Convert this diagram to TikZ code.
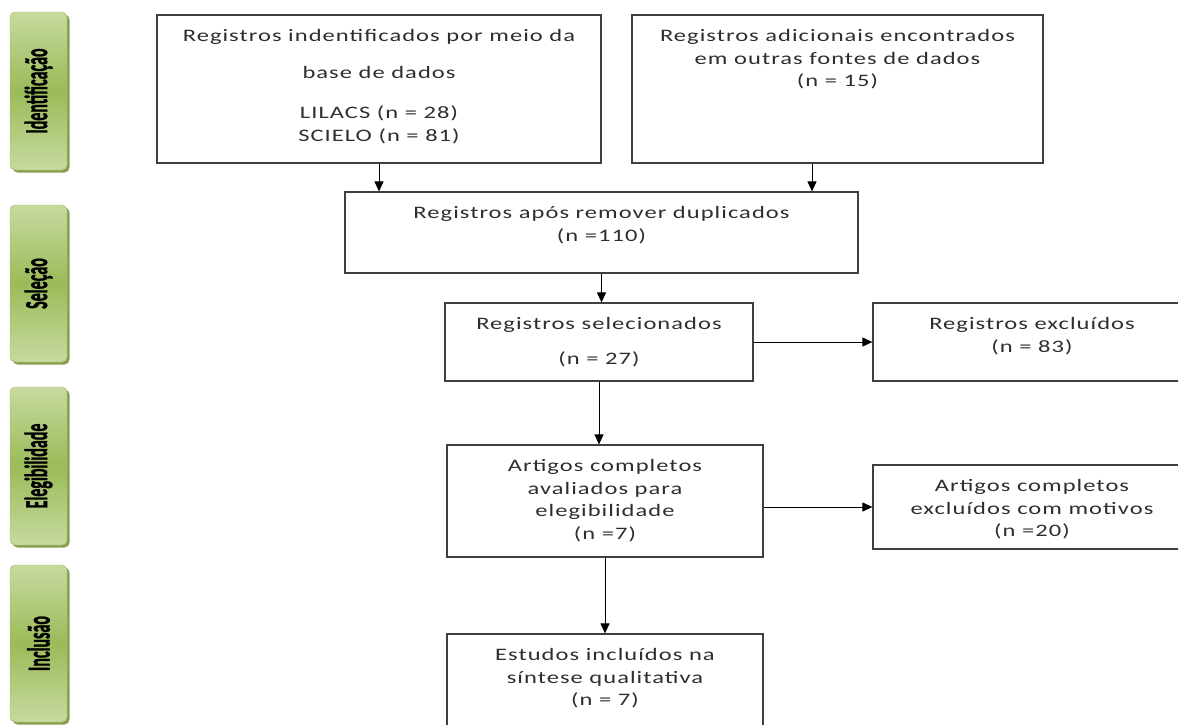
\documentclass[tikz,border=0pt]{standalone}
\usepackage{fontspec}
\setmainfont{Carlito}
\newfontfamily\boxfont[FakeStretch=1.4,LetterSpace=6]{Carlito}
\newfontfamily\phasefont[FakeBold=1.5]{Carlito Bold}
\usetikzlibrary{arrows.meta,positioning,shadows}
\definecolor{barlight}{HTML}{C6DA9E}
\definecolor{barmid}{HTML}{9BBB59}
\definecolor{barline}{HTML}{A3C068}
\definecolor{barshadow}{HTML}{7A9440}
\definecolor{boxline}{HTML}{3F3F3F}
\definecolor{boxtext}{HTML}{2E2E2E}
\tikzset{
  phase/.style={rounded corners=5pt,draw=barline,top color=barlight,bottom color=barlight,middle color=barmid,minimum width=57pt,minimum height=158pt,inner sep=0pt,drop shadow={shadow xshift=2.5pt,shadow yshift=-2.5pt,fill=barshadow,opacity=0.9},text=black,font=\phasefont\fontsize{16}{20}\selectfont},
  rec/.style={draw=boxline,line width=1.2pt,fill=white,inner sep=0pt},
  txt/.style={align=center,inner sep=0pt,text=boxtext,font=\boxfont\fontsize{17.5}{22.5}\selectfont},
  flow/.style={-{Triangle[length=10pt,width=9pt]},line width=1pt,black},
}
\newcommand{\phasetext}[1]{\rotatebox{90}{\scalebox{1}[2]{#1}}}

\begin{document}
\begin{tikzpicture}[x=1pt,y=-1pt]
  \useasboundingbox (0,0) rectangle (1178,724);
  % phases
  \node[phase] (pid) at (38.5,91) {\phasetext{Identificação}};
  \node[phase,minimum height=157pt] (psel) at (38.5,283.5) {\phasetext{Seleção}};
  \node[phase] (pele) at (38.5,466) {\phasetext{Elegibilidade}};
  \node[phase,minimum height=157pt] (pinc) at (38.5,643.5) {\phasetext{Inclusão}};
  % boxes
  \node[rec,minimum width=444pt,minimum height=148pt] (ident) at (379,89) {};
  \node[rec,minimum width=411pt,minimum height=148pt] (extra) at (837.5,89) {};
  \node[rec,minimum width=513pt,minimum height=81pt] (dup) at (601.5,232.5) {};
  \node[rec,minimum width=308pt,minimum height=78pt] (sel) at (599,342) {};
  \node[rec,minimum width=318pt,minimum height=78pt] (excl) at (1032,342) {};
  \node[rec,minimum width=316pt,minimum height=112pt] (full) at (605,501) {};
  \node[rec,minimum width=318pt,minimum height=84pt] (fullexcl) at (1032,507) {};
  \node[rec,minimum width=316pt,minimum height=112pt] (incl) at (605,690) {};
  % texts
  \node[txt,below=15pt of ident.north] (identtxt) {Registros indentificados por meio da\\[14pt]base de dados\\[18pt]LILACS (n = 28)\\SCIELO (n = 81)};
  \node[txt,below=15pt of extra.north] (extratxt) {Registros adicionais encontrados\\em outras fontes de dados\\(n = 15)};
  \node[txt,below=15pt of dup.north] (duptxt) {Registros após remover duplicados\\(n =110)};
  \node[txt,below=15pt of sel.north] (seltxt) {Registros selecionados\\[12pt](n = 27)};
  \node[txt,below=15pt of excl.north] (excltxt) {Registros excluídos\\(n = 83)};
  \node[txt,below=15pt of full.north] (fulltxt) {Artigos completos\\avaliados para\\elegibilidade\\(n =7)};
  \node[txt,below=15pt of fullexcl.north] (fullexcltxt) {Artigos completos\\excluídos com motivos\\(n =20)};
  \node[txt,below=15pt of incl.north] (incltxt) {Estudos incluídos na\\síntese qualitativa\\(n = 7)};
  % arrows
  \draw[flow] (ident.south) -- (ident.south |- dup.north);
  \draw[flow] ([xshift=-25.5pt]extra.south) -- ([xshift=-25.5pt]extra.south |- dup.north);
  \draw[flow] (dup.south) -- (dup.south |- sel.north);
  \draw[flow] (sel.east) -- (excl.west);
  \draw[flow] (sel.south) -- (sel.south |- full.north);
  \draw[flow] (full.east |- fullexcl.west) -- (fullexcl.west);
  \draw[flow] (full.south) -- (incl.north);
\end{tikzpicture}
\end{document}
